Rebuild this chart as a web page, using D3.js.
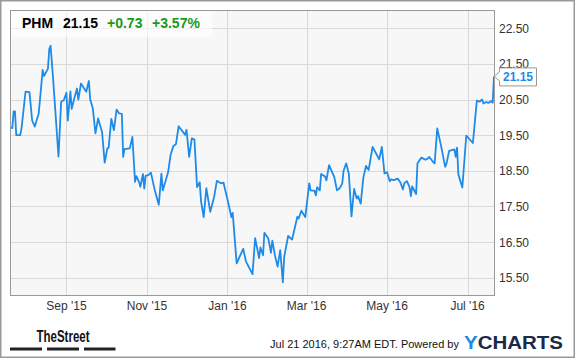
<html>

<head>
    <style>
        body { margin: 0; background: #fff; }
        text { font-family: "Liberation Sans", Arial, sans-serif; }
    </style>
</head>

<body>
    <svg id="chart"></svg>
</body>
<script src="https://cdnjs.cloudflare.com/ajax/libs/d3/7.8.5/d3.min.js"></script>
<script>
    const ticker = "PHM", lastPrice = "21.15", change = "+0.73", changePct = "+3.57%";

    const dates = [
        "2015-07-21", "2015-07-22", "2015-07-23", "2015-07-24", "2015-07-25", "2015-07-28", "2015-07-29",
        "2015-08-01", "2015-08-04", "2015-08-06", "2015-08-08", "2015-08-11", "2015-08-14", "2015-08-15",
        "2015-08-18", "2015-08-19", "2015-08-20", "2015-08-22", "2015-08-26", "2015-08-28", "2015-08-30",
        "2015-09-01", "2015-09-02", "2015-09-04", "2015-09-05", "2015-09-07", "2015-09-09", "2015-09-10",
        "2015-09-12", "2015-09-16", "2015-09-18", "2015-09-19", "2015-09-21", "2015-09-23", "2015-09-25",
        "2015-09-28", "2015-09-30", "2015-10-02", "2015-10-03", "2015-10-05", "2015-10-07", "2015-10-09",
        "2015-10-11", "2015-10-13", "2015-10-14", "2015-10-15", "2015-10-19", "2015-10-21", "2015-10-23",
        "2015-10-24", "2015-10-26", "2015-10-27", "2015-10-29", "2015-10-30", "2015-10-31", "2015-11-02",
        "2015-11-04", "2015-11-07", "2015-11-10", "2015-11-12", "2015-11-13", "2015-11-17", "2015-11-19",
        "2015-11-21", "2015-11-23", "2015-11-25", "2015-11-30", "2015-12-01", "2015-12-03", "2015-12-05",
        "2015-12-07", "2015-12-09", "2015-12-11", "2015-12-12", "2015-12-14", "2015-12-16", "2015-12-19",
        "2015-12-22", "2015-12-24", "2015-12-27", "2015-12-29", "2016-01-01", "2016-01-04", "2016-01-05",
        "2016-01-08", "2016-01-10", "2016-01-13", "2016-01-15", "2016-01-20", "2016-01-22", "2016-01-25",
        "2016-01-26", "2016-01-28", "2016-01-29", "2016-02-01", "2016-02-03", "2016-02-04", "2016-02-06",
        "2016-02-08", "2016-02-10", "2016-02-12", "2016-02-13", "2016-02-16", "2016-02-19", "2016-02-23",
        "2016-02-24", "2016-02-26", "2016-02-29", "2016-03-03", "2016-03-04", "2016-03-07", "2016-03-08",
        "2016-03-09", "2016-03-11", "2016-03-12", "2016-03-15", "2016-03-16", "2016-03-18", "2016-03-22",
        "2016-03-24", "2016-03-26", "2016-03-28", "2016-03-29", "2016-03-31", "2016-04-02", "2016-04-04",
        "2016-04-06", "2016-04-08", "2016-04-09", "2016-04-11", "2016-04-13", "2016-04-15", "2016-04-17",
        "2016-04-20", "2016-04-25", "2016-04-27", "2016-04-29", "2016-05-01", "2016-05-03", "2016-05-04",
        "2016-05-06", "2016-05-09", "2016-05-11", "2016-05-13", "2016-05-14", "2016-05-16", "2016-05-18",
        "2016-05-19", "2016-05-20", "2016-05-23", "2016-05-24", "2016-05-27", "2016-05-30", "2016-06-01",
        "2016-06-02", "2016-06-05", "2016-06-06", "2016-06-08", "2016-06-11", "2016-06-14", "2016-06-15",
        "2016-06-17", "2016-06-21", "2016-06-22", "2016-06-23", "2016-06-24", "2016-06-27", "2016-06-30",
        "2016-07-05", "2016-07-08", "2016-07-10", "2016-07-12", "2016-07-13", "2016-07-15", "2016-07-17",
        "2016-07-19", "2016-07-20", "2016-07-21"
    ];

    const prices = [
        19.71, 19.70, 20.17, 20.17, 19.50, 19.50, 19.70,
        20.72, 20.71, 19.92, 19.74, 20.11, 21.33, 21.16,
        21.37, 21.92, 22.01, 21.04, 18.90, 20.44, 20.48,
        20.69, 19.91, 20.73, 20.24, 20.54, 20.81, 20.50,
        20.95, 20.72, 21.02, 20.51, 20.25, 19.55, 19.97,
        19.59, 18.73, 19.13, 19.15, 19.96, 19.64, 20.22,
        20.11, 20.10, 18.89, 19.11, 19.13, 19.45, 18.19,
        18.35, 18.19, 18.05, 18.41, 18.00, 18.36, 18.38,
        18.45, 17.95, 17.55, 18.42, 17.95, 18.45, 18.96,
        19.19, 19.25, 19.75, 19.51, 19.65, 18.89, 19.41,
        19.38, 18.04, 18.18, 17.65, 17.20, 18.01, 17.35,
        17.78, 18.22, 18.15, 18.17, 17.70, 17.20, 17.32,
        15.90, 16.07, 16.31, 15.96, 15.60, 16.61, 16.05,
        16.35, 16.13, 16.76, 16.60, 16.20, 16.54, 16.13,
        15.81, 16.27, 15.37, 16.08, 16.67, 16.57, 17.21,
        17.16, 17.38, 17.20, 18.15, 17.95, 17.94, 17.81,
        18.04, 17.95, 18.41, 18.34, 18.23, 18.66, 18.32,
        17.95, 18.01, 18.14, 18.50, 18.71, 18.42, 17.22,
        17.99, 17.72, 17.79, 17.58, 18.31, 18.64, 18.52,
        19.17, 18.82, 19.17, 18.43, 18.46, 18.21, 18.26,
        18.24, 18.28, 18.18, 17.98, 18.15, 18.21, 18.04,
        17.79, 18.06, 17.85, 18.71, 18.87, 18.81, 18.85,
        18.89, 18.74, 18.71, 19.69, 19.18, 18.61, 18.70,
        19.06, 19.10, 18.89, 19.15, 18.40, 18.03, 19.49,
        19.28, 20.47, 20.44, 20.50, 20.39, 20.43, 20.41,
        20.46, 20.41, 21.15
    ];

    const yTicks = [15.5, 16.5, 17.5, 18.5, 19.5, 20.5, 21.5, 22.5];
    const footerStamp = "Jul 21 2016, 9:27AM EDT. Powered by";

    const width = 575, height = 358;
    const plot = { left: 10.5, right: 494.5, top: 10.5, bottom: 295.5 };

    const parse = d3.timeParse("%Y-%m-%d");
    const data = dates.map((d, i) => ({ date: parse(d), price: prices[i] }));

    const svg = d3.select('#chart')
        .attr('width', width)
        .attr('height', height);

    // outer frame
    svg.append('rect')
        .attr('x', 0.75).attr('y', 0.75)
        .attr('width', width - 1.5).attr('height', height - 1.5)
        .attr('fill', '#fff').attr('stroke', '#999').attr('stroke-width', 1.5);

    const x = d3.scaleTime()
        .domain([parse("2015-07-21"), parse("2016-07-21")])
        .range([plot.left + 0.5, plot.right - 0.5]);

    const y = d3.scaleLinear()
        .domain([15, 23])
        .range([plot.bottom, plot.top]);

    svg.append('rect')
        .attr('x', plot.left).attr('y', plot.top)
        .attr('width', plot.right - plot.left).attr('height', plot.bottom - plot.top)
        .attr('fill', '#f7f7f7');

    // grid
    const xTicks = x.ticks(d3.timeMonth.every(2));
    svg.append('g').selectAll('line')
        .data(xTicks)
        .enter().append('line')
        .attr('x1', d => Math.round(x(d)) + 0.5).attr('x2', d => Math.round(x(d)) + 0.5)
        .attr('y1', plot.top).attr('y2', plot.bottom)
        .attr('stroke', '#d9d9d9');

    svg.append('g').selectAll('line')
        .data(yTicks)
        .enter().append('line')
        .attr('x1', plot.left).attr('x2', plot.right)
        .attr('y1', d => Math.round(y(d)) + 0.5).attr('y2', d => Math.round(y(d)) + 0.5)
        .attr('stroke', '#d9d9d9');

    // header box
    svg.append('rect')
        .attr('x', plot.left).attr('y', plot.top)
        .attr('width', 202).attr('height', 27)
        .attr('fill', '#fff').attr('opacity', 0.6);

    const header = svg.append('g')
        .attr('font-size', 14).attr('font-weight', 'bold');
    header.append('text').attr('x', 22).attr('y', 28).attr('fill', '#000').text(ticker);
    header.append('text').attr('x', 63).attr('y', 28).attr('fill', '#000').text(lastPrice);
    header.append('text').attr('x', 107).attr('y', 28).attr('fill', '#1a9a1a').text(change);
    header.append('text').attr('x', 152).attr('y', 28).attr('fill', '#1a9a1a').text(changePct);

    // price line
    const line = d3.line()
        .x(d => x(d.date))
        .y(d => y(d.price));

    svg.append('path')
        .datum(data)
        .attr('d', line)
        .attr('fill', 'none')
        .attr('stroke', '#1f8be8')
        .attr('stroke-width', 1.8)
        .attr('stroke-linejoin', 'round');

    // plot border
    svg.append('rect')
        .attr('x', plot.left).attr('y', plot.top)
        .attr('width', plot.right - plot.left).attr('height', plot.bottom - plot.top)
        .attr('fill', 'none').attr('stroke', '#999');

    // axes labels
    svg.append('g').selectAll('text')
        .data(yTicks)
        .enter().append('text')
        .attr('x', 499).attr('y', d => y(d) + 4.5)
        .attr('font-size', 12).attr('fill', '#333')
        .text(d => d3.format('.2f')(d));

    svg.append('g').selectAll('text')
        .data(xTicks)
        .enter().append('text')
        .attr('x', d => x(d)).attr('y', 310)
        .attr('text-anchor', 'middle')
        .attr('font-size', 12).attr('fill', '#333')
        .text(d => d3.timeFormat("%b '%y")(d));

    // last value flag
    const last = data[data.length - 1];
    const ly = y(last.price);
    svg.append('path')
        .attr('d', `M${x(last.date)},${ly} L499.5,${ly - 4.5} L499.5,${ly - 8.5} L536.5,${ly - 8.5} L536.5,${ly + 9.5} L499.5,${ly + 9.5} L499.5,${ly + 4.5} Z`)
        .attr('fill', '#fff').attr('stroke', '#999');
    svg.append('text')
        .attr('x', 518).attr('y', ly + 5)
        .attr('text-anchor', 'middle')
        .attr('font-size', 12).attr('font-weight', 'bold').attr('fill', '#1f8be8')
        .text(d3.format('.2f')(last.price));

    // footer
    svg.append('text')
        .attr('x', 36.5).attr('y', 341.5)
        .attr('font-size', 16).attr('font-weight', 'bold').attr('fill', '#111')
        .attr('textLength', 53).attr('lengthAdjust', 'spacingAndGlyphs')
        .text("TheStreet");
    svg.append('g').selectAll('rect')
        .data([[10, 42], [47, 79], [84, 115.5]])
        .enter().append('rect')
        .attr('x', d => d[0]).attr('y', 347.5)
        .attr('width', d => d[1] - d[0]).attr('height', 3)
        .attr('fill', '#222');

    svg.append('text')
        .attr('x', 459).attr('y', 348)
        .attr('text-anchor', 'end')
        .attr('font-size', 11).attr('fill', '#111')
        .text(footerStamp);

    const logo = svg.append('text')
        .attr('x', 464).attr('y', 348.5)
        .attr('font-size', 19).attr('font-weight', 'bold')
        .attr('textLength', 99).attr('lengthAdjust', 'spacingAndGlyphs');
    logo.append('tspan').attr('fill', '#1f8be8').text("Y");
    logo.append('tspan').attr('fill', '#1b2a47').text("CHARTS");
</script>

</html>
